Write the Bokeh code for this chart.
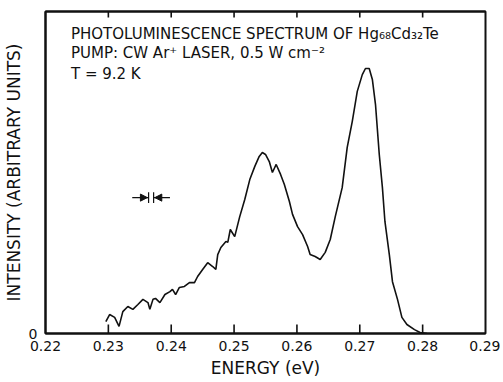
import numpy as np
from bokeh.plotting import figure
from bokeh.models import Range1d, LinearAxis, FixedTicker, Label, CustomJSTickFormatter
from bokeh.embed import file_html
from bokeh.resources import INLINE

# ---- data ----
energy_ev = [0.2296, 0.2302, 0.2310, 0.2317, 0.2323, 0.2331, 0.2339, 0.2347, 0.2355, 0.2363,
             0.2366, 0.2371, 0.2375, 0.2382, 0.2390, 0.2398, 0.2402, 0.2407, 0.2413, 0.2421,
             0.2429, 0.2437, 0.2442, 0.2450, 0.2458, 0.2466, 0.2471, 0.2474, 0.2479, 0.2487,
             0.2490, 0.2494, 0.2501, 0.2509, 0.2517, 0.2525, 0.2533, 0.2540, 0.2545, 0.2550,
             0.2556, 0.2561, 0.2567, 0.2574, 0.2580, 0.2588, 0.2593, 0.2601, 0.2609, 0.2617,
             0.2621, 0.2629, 0.2637, 0.2645, 0.2653, 0.2661, 0.2672, 0.2680, 0.2688, 0.2696,
             0.2704, 0.2709, 0.2715, 0.2720, 0.2725, 0.2731, 0.2736, 0.2740, 0.2747, 0.2752,
             0.2760, 0.2767, 0.2775, 0.2787, 0.2796, 0.2807]
intensity = [0.037, 0.059, 0.050, 0.022, 0.068, 0.084, 0.075, 0.090, 0.106, 0.096,
             0.075, 0.106, 0.109, 0.096, 0.121, 0.130, 0.137, 0.121, 0.143, 0.146,
             0.158, 0.158, 0.177, 0.199, 0.220, 0.208, 0.199, 0.245, 0.267, 0.286,
             0.283, 0.323, 0.301, 0.363, 0.416, 0.478, 0.519, 0.550, 0.562, 0.556,
             0.534, 0.500, 0.525, 0.494, 0.463, 0.410, 0.370, 0.332, 0.307, 0.270,
             0.245, 0.239, 0.230, 0.252, 0.292, 0.363, 0.453, 0.578, 0.658, 0.752,
             0.804, 0.823, 0.823, 0.789, 0.711, 0.556, 0.453, 0.348, 0.245, 0.161,
             0.106, 0.050, 0.028, 0.012, 0.003, 0.000]
x_ticks = [0.22, 0.23, 0.24, 0.25, 0.26, 0.27, 0.28, 0.29]
x_tick_labels = ["0.22", "0.23", "0.24", "0.25", "0.26", "0.27", "0.28", "0.29"]
y_ticks = [0]
y_tick_labels = ["0"]

# spectral resolution marker (energy, intensity)
res_center = 0.2368
res_half_gap = 0.0004
res_arm = 0.0026
res_level = 0.422

FONT = "DejaVu Sans"
INK = "#111111"
Y_MIN, Y_MAX = 0.0, 1.0
FRAME_W, FRAME_H = 440, 322

p = figure(width=None, height=None, frame_width=FRAME_W, frame_height=FRAME_H,
           output_backend="svg", toolbar_location=None,
           x_range=Range1d(0.22, 0.29), y_range=Range1d(Y_MIN, Y_MAX),
           x_axis_location=None, y_axis_location=None,
           min_border_left=40, min_border_right=15, min_border_top=11, min_border_bottom=48)
p.grid.visible = False
p.outline_line_color = INK
p.outline_line_width = 2
p.background_fill_color = "white"
p.border_fill_color = "white"

xb = LinearAxis(ticker=FixedTicker(ticks=x_ticks),
                major_label_overrides={t: l for t, l in zip(x_ticks, x_tick_labels)},
                axis_label="ENERGY (eV)")
xb.major_label_standoff = 7
xb.axis_label_standoff = 4
p.add_layout(xb, "below")

xt = LinearAxis(ticker=FixedTicker(ticks=x_ticks),
                formatter=CustomJSTickFormatter(code="return ''"))
xt.major_label_standoff = 0
xt.major_label_text_font_size = "1px"
p.add_layout(xt, "above")

yl = LinearAxis(ticker=FixedTicker(ticks=y_ticks),
                major_label_overrides={t: l for t, l in zip(y_ticks, y_tick_labels)},
                axis_label="INTENSITY (ARBITRARY UNITS)")
yl.major_label_standoff = 8
yl.axis_label_standoff = 2
p.add_layout(yl, "left")

for ax in (xb, xt, yl):
    ax.axis_line_color = INK
    ax.axis_line_width = 2
    ax.minor_tick_line_color = None
    ax.major_tick_line_color = None
    ax.major_tick_in = 0
    ax.major_tick_out = 0
    ax.major_label_text_font = FONT
    ax.major_label_text_color = INK
    ax.axis_label_text_font = FONT
    ax.axis_label_text_font_style = "normal"
    ax.axis_label_text_color = INK
xb.major_label_text_font_size = "14px"
yl.major_label_text_font_size = "14px"
xb.axis_label_text_font_size = "17px"
yl.axis_label_text_font_size = "17px"
yl.major_label_orientation = "horizontal"

# inward tick marks on bottom and top edges, placed at the tick values
bottom_len = 9.0 / FRAME_H * (Y_MAX - Y_MIN)
top_len = 6.0 / FRAME_H * (Y_MAX - Y_MIN)
inner = x_ticks[1:-1]
p.segment(x0=inner, y0=[Y_MIN] * len(inner), x1=inner, y1=[Y_MIN + bottom_len] * len(inner),
          line_color=INK, line_width=1.6)
p.segment(x0=inner, y0=[Y_MAX] * len(inner), x1=inner, y1=[Y_MAX - top_len] * len(inner),
          line_color=INK, line_width=1.6)

# spectrum
p.line(energy_ev, intensity, line_color=INK, line_width=1.6)

# resolution marker
left_bar = res_center - res_half_gap
right_bar = res_center + res_half_gap
p.segment(x0=[left_bar - res_arm, right_bar], y0=[res_level, res_level],
          x1=[left_bar, right_bar + res_arm], y1=[res_level, res_level],
          line_color=INK, line_width=1.2)
p.segment(x0=[left_bar, right_bar], y0=[res_level - 0.017, res_level - 0.017],
          x1=[left_bar, right_bar], y1=[res_level + 0.017, res_level + 0.017],
          line_color=INK, line_width=1.2)
ah = 0.0011
aw = 0.011
p.patches(xs=[[left_bar - 0.0002, left_bar - 0.0002 - ah, left_bar - 0.0002 - ah],
              [right_bar + 0.0002, right_bar + 0.0002 + ah, right_bar + 0.0002 + ah]],
          ys=[[res_level, res_level + aw, res_level - aw],
              [res_level, res_level + aw, res_level - aw]],
          fill_color=INK, line_color=INK)

# annotation text
ann_lines = ["PHOTOLUMINESCENCE SPECTRUM OF Hg\u2086\u2088Cd\u2083\u2082Te",
             "PUMP: CW Ar\u207a LASER, 0.5 W cm\u207b\u00b2",
             "T = 9.2 K"]
ann_y = [0.929, 0.870, 0.807]
for txt, yy in zip(ann_lines, ann_y):
    p.add_layout(Label(x=0.22405, y=yy, text=txt, text_font=FONT, text_font_size="15px",
                       text_color=INK, text_baseline="middle", text_align="left"))

open("out.html", "w").write(file_html(p, INLINE))
